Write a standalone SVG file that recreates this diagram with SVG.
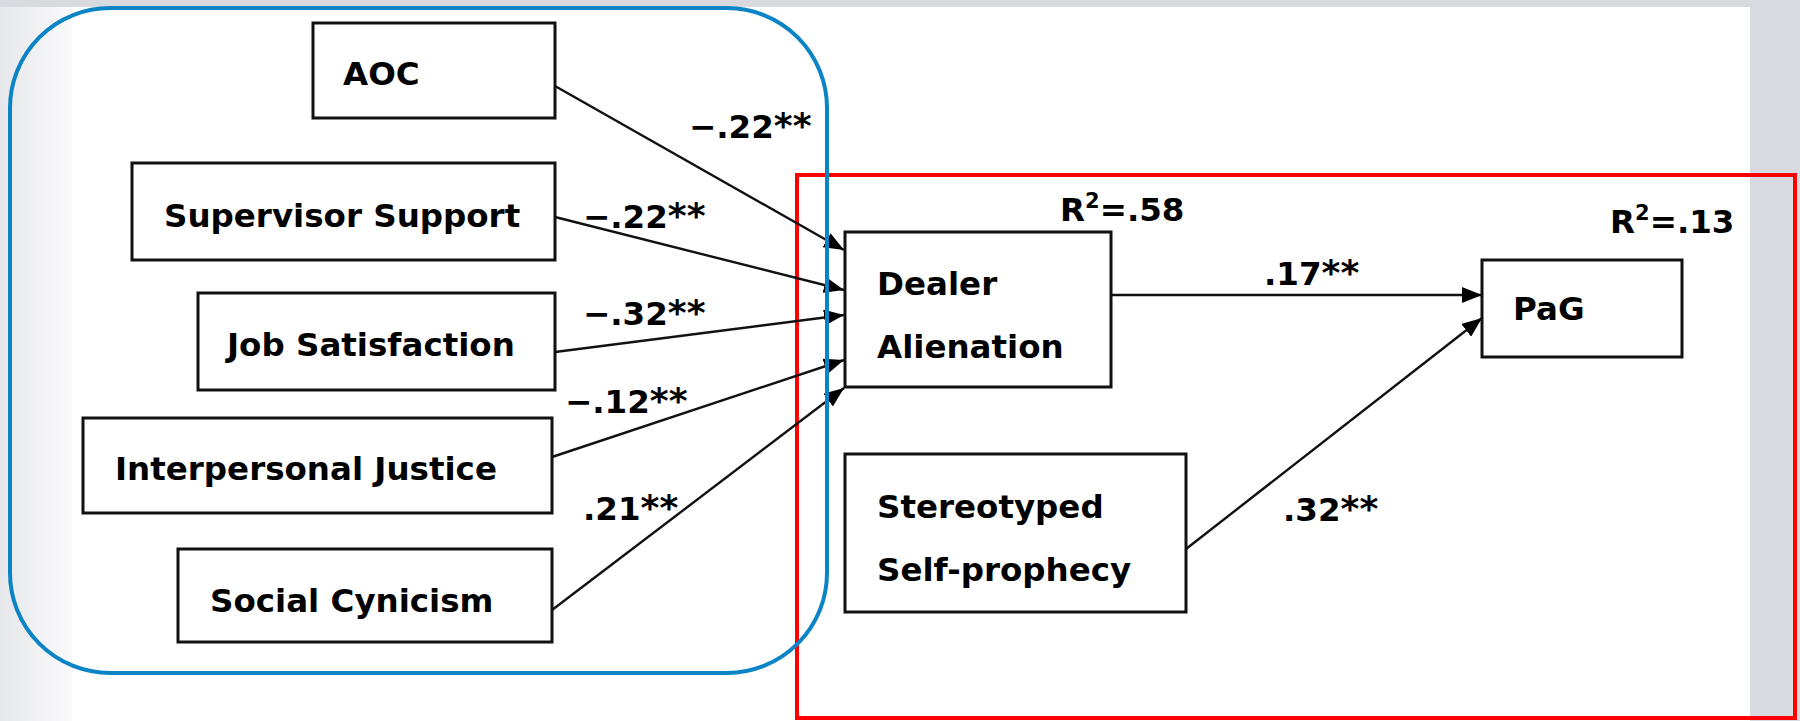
<svg xmlns="http://www.w3.org/2000/svg" width="1800" height="721" viewBox="0 0 1800 721">
<style>
.t{font-family:"DejaVu Sans","Verdana",sans-serif;font-weight:bold;font-size:32.5px;fill:#000}
.s{font-size:36px}
.box{fill:#fff;stroke:#111;stroke-width:3}
.edge{stroke:#111;stroke-width:2.4;fill:none;marker-end:url(#ah)}
</style>
<defs>
<marker id="ah" markerUnits="userSpaceOnUse" markerWidth="22" markerHeight="16" refX="20" refY="8" orient="auto">
<path d="M0,0 L20,8 L0,16 Z" fill="#000"/>
</marker>
<linearGradient id="lg" x1="0" y1="0" x2="1" y2="0">
<stop offset="0" stop-color="#e6e7ea"/>
<stop offset="1" stop-color="#fafafb"/>
</linearGradient>
</defs>
<g id="background">
<rect x="0" y="0" width="1800" height="721" fill="#d9dadf"/>
<rect x="0" y="7" width="72" height="714" fill="url(#lg)"/>
<rect x="72" y="7" width="1678" height="714" fill="#fff"/>
</g>
<rect id="red-frame" x="797" y="175" width="998" height="543" fill="none" stroke="#ff0000" stroke-width="4"/>
<g id="connectors">
<line class="edge" x1="555" y1="86" x2="844" y2="250"/>
<line class="edge" x1="555" y1="217" x2="844" y2="290"/>
<line class="edge" x1="555" y1="352" x2="844" y2="315"/>
<line class="edge" x1="552" y1="457" x2="844" y2="360"/>
<line class="edge" x1="552" y1="610" x2="844" y2="388"/>
<line class="edge" x1="1111" y1="295" x2="1482" y2="295"/>
<line class="edge" x1="1186" y1="549" x2="1482" y2="318"/>
<text class="t" x="689" y="138">−.22<tspan class="s">**</tspan></text>
<text class="t" x="583" y="228">−.22<tspan class="s">**</tspan></text>
<text class="t" x="583" y="325">−.32<tspan class="s">**</tspan></text>
<text class="t" x="565" y="413">−.12<tspan class="s">**</tspan></text>
<text class="t" x="583" y="520">.21<tspan class="s">**</tspan></text>
<text class="t" x="1264" y="285">.17<tspan class="s">**</tspan></text>
<text class="t" x="1283" y="521">.32<tspan class="s">**</tspan></text>
</g>
<g id="node-aoc">
<rect class="box" x="313" y="23" width="242" height="95"/>
<text class="t" x="343" y="85">AOC</text>
</g>
<g id="node-supervisor">
<rect class="box" x="132" y="163" width="423" height="97"/>
<text class="t" x="164" y="227">Supervisor Support</text>
</g>
<g id="node-job">
<rect class="box" x="198" y="293" width="357" height="97"/>
<text class="t" x="227" y="356">Job Satisfaction</text>
</g>
<g id="node-interpersonal">
<rect class="box" x="83" y="418" width="469" height="95"/>
<text class="t" x="115" y="480">Interpersonal Justice</text>
</g>
<g id="node-cynicism">
<rect class="box" x="178" y="549" width="374" height="93"/>
<text class="t" x="210" y="612">Social Cynicism</text>
</g>
<g id="node-dealer">
<rect class="box" x="845" y="232" width="266" height="155"/>
<text class="t" x="877" y="295">Dealer</text>
<text class="t" x="877" y="358">Alienation</text>
<text class="t" x="1060" y="221">R<tspan dy="-13" font-size="21">2</tspan><tspan dy="13">=.58</tspan></text>
</g>
<g id="node-stereotyped">
<rect class="box" x="845" y="454" width="341" height="158"/>
<text class="t" x="877" y="518">Stereotyped</text>
<text class="t" x="877" y="581">Self-prophecy</text>
</g>
<g id="node-pag">
<rect class="box" x="1482" y="260" width="200" height="97"/>
<text class="t" x="1513" y="320">PaG</text>
<text class="t" x="1610" y="233">R<tspan dy="-13" font-size="21">2</tspan><tspan dy="13">=.13</tspan></text>
</g>
<rect id="blue-frame" x="10" y="8" width="817" height="665" rx="100" ry="100" fill="none" stroke="#0b84c6" stroke-width="4"/>
</svg>
